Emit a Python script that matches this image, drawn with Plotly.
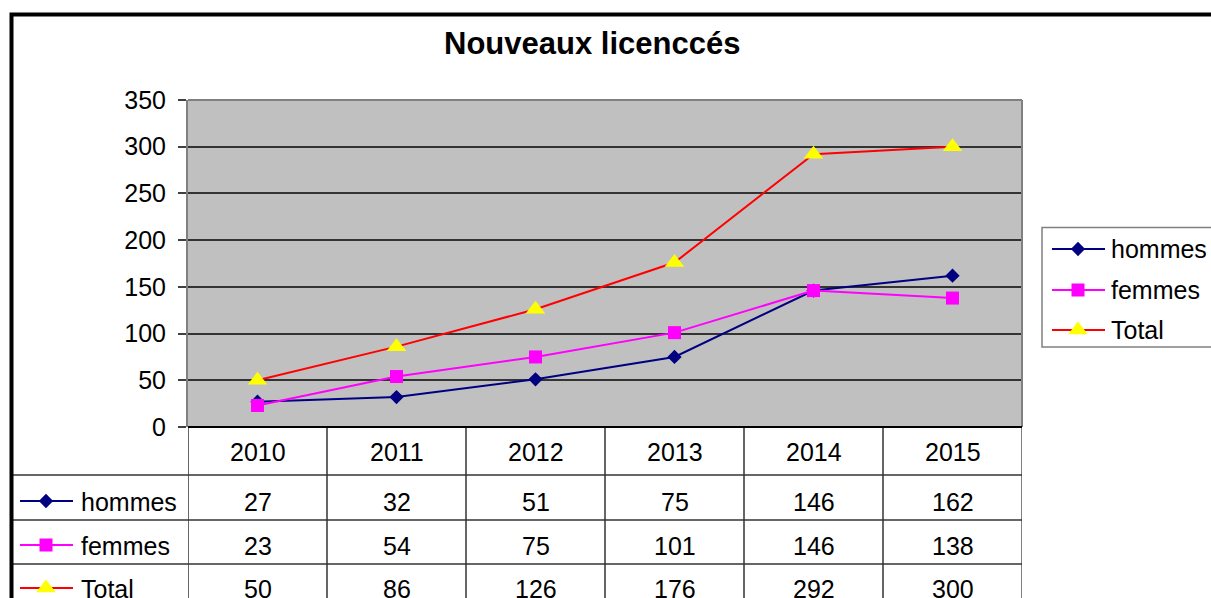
import plotly.graph_objects as go

W, H = 1211, 598

# ---- data ----
years = ["2010", "2011", "2012", "2013", "2014", "2015"]
series_names = ["hommes", "femmes", "Total"]
hommes = [27, 32, 51, 75, 146, 162]
femmes = [23, 54, 75, 101, 146, 138]
total = [50, 86, 126, 176, 292, 300]
y_ticks = [0, 50, 100, 150, 200, 250, 300, 350]
title_text = "Nouveaux licenccés"

series_values = [hommes, femmes, total]
line_colors = ["#000080", "#FF00FF", "#FF0000"]
marker_colors = ["#000080", "#FF00FF", "#FFFF00"]
marker_symbols = ["diamond", "square", "triangle-up"]
marker_sizes = [11, 13, 17]

FONT = "Liberation Sans, Arial, sans-serif"
FS = 25


def px(x):
    return x / W


def py(y):
    return 1 - y / H


# layout geometry (pixels)
PL, PR, PT, PB = 188, 1022, 100, 427
row_lines = [475, 520, 564]
row_centers = [502, 546, 589]
header_center = 452

fig = go.Figure()

# gray plot area
shapes = [
    dict(type="rect", xref="paper", yref="paper", x0=px(PL), x1=px(PR), y0=py(PB), y1=py(PT),
         fillcolor="#C0C0C0", line=dict(width=0), layer="below"),
]

for name, vals, lc, mc, sym, sz in zip(series_names, series_values, line_colors,
                                       marker_colors, marker_symbols, marker_sizes):
    fig.add_trace(go.Scatter(
        x=years, y=vals, mode="lines+markers", name=name,
        line=dict(color=lc, width=2),
        marker=dict(symbol=sym, size=sz, color=mc, line=dict(width=0)),
        showlegend=False, cliponaxis=False, hoverinfo="skip",
        xaxis="x", yaxis="y",
    ))

# legend keys (table + right legend) on a full-canvas overlay axis
leg_centers = [249, 290, 330]
for i, (name, lc, mc, sym, sz) in enumerate(zip(series_names, line_colors, marker_colors,
                                                marker_symbols, marker_sizes)):
    for (x0, x1, xm, yc) in [(20, 73, 46, row_centers[i] - 1), (1052, 1105, 1078, leg_centers[i])]:
        fig.add_trace(go.Scatter(x=[x0, x1], y=[yc, yc], mode="lines",
                                 line=dict(color=lc, width=2), showlegend=False,
                                 hoverinfo="skip", xaxis="x2", yaxis="y2"))
        fig.add_trace(go.Scatter(x=[xm], y=[yc], mode="markers",
                                 marker=dict(symbol=sym, size=sz, color=mc, line=dict(width=0)),
                                 showlegend=False, hoverinfo="skip", xaxis="x2", yaxis="y2"))

annotations = []
# title
annotations.append(dict(text=title_text, x=px(592), y=py(44), xref="paper", yref="paper",
                        xanchor="center", yanchor="middle", showarrow=False,
                        font=dict(family=FONT, size=31, color="#000000", weight="bold")))

# table header (years)
for i, yr in enumerate(years):
    annotations.append(dict(text=yr, x=i, y=py(header_center), xref="x", yref="paper",
                            xanchor="center", yanchor="middle", showarrow=False,
                            font=dict(family=FONT, size=FS, color="#000000")))
# table rows
for r, (name, vals) in enumerate(zip(series_names, series_values)):
    annotations.append(dict(text=name, x=px(79), y=py(row_centers[r]), xref="paper", yref="paper",
                            xanchor="left", yanchor="middle", showarrow=False,
                            font=dict(family=FONT, size=FS, color="#000000")))
    for i, v in enumerate(vals):
        annotations.append(dict(text=str(v), x=i, y=py(row_centers[r]), xref="x", yref="paper",
                                xanchor="center", yanchor="middle", showarrow=False,
                                font=dict(family=FONT, size=FS, color="#000000")))
# right legend labels
for r, name in enumerate(series_names):
    annotations.append(dict(text=name, x=px(1109), y=py(leg_centers[r]), xref="paper", yref="paper",
                            xanchor="left", yanchor="middle", showarrow=False,
                            font=dict(family=FONT, size=FS, color="#000000")))

# table grid lines
GRID = "#333333"
for k in range(len(years) + 1):
    col = "#808080" if k == len(years) else GRID
    wid = 2 if k == len(years) else 1.5
    shapes.append(dict(type="line", xref="x", yref="paper", x0=k - 0.5, x1=k - 0.5,
                       y0=py(PB), y1=py(H + 20), line=dict(color=col, width=wid)))
for yl in row_lines:
    shapes.append(dict(type="line", xref="paper", yref="paper", x0=px(13), x1=px(PR),
                       y0=py(yl), y1=py(yl), line=dict(color=GRID, width=1.5)))
# plot area border (top and right)
shapes.append(dict(type="line", xref="paper", yref="paper", x0=px(PL), x1=px(PR),
                   y0=py(PT), y1=py(PT), line=dict(color="#808080", width=2)))
shapes.append(dict(type="line", xref="paper", yref="paper", x0=px(PR), x1=px(PR),
                   y0=py(PT), y1=py(PB), line=dict(color="#808080", width=2)))
# x axis line
shapes.append(dict(type="line", xref="paper", yref="paper", x0=px(PL), x1=px(PR),
                   y0=py(PB), y1=py(PB), line=dict(color="#000000", width=2)))
# right legend box
shapes.append(dict(type="rect", xref="paper", yref="paper", x0=px(1042), x1=px(1240),
                   y0=py(347), y1=py(227.5), line=dict(color="#808080", width=1.5)))
# outer chart border
shapes.append(dict(type="rect", xref="paper", yref="paper", x0=px(11.5), x1=px(1260),
                   y0=py(650), y1=py(14.5), line=dict(color="#000000", width=4)))

fig.update_layout(
    width=W, height=H,
    margin=dict(l=0, r=0, t=0, b=0, pad=0, autoexpand=False),
    paper_bgcolor="#FFFFFF", plot_bgcolor="rgba(0,0,0,0)",
    font=dict(family=FONT, size=FS, color="#000000"),
    showlegend=False,
    xaxis=dict(type="category", range=[-0.5, len(years) - 0.5],
               domain=[px(PL), px(PR)], showticklabels=False, showgrid=False,
               zeroline=False, showline=False, ticks="", fixedrange=True, automargin=False),
    yaxis=dict(range=[0, 350], domain=[py(PB), py(PT)], tickvals=y_ticks,
               ticktext=[str(v) for v in y_ticks],
               ticks="outside", ticklen=8, tickwidth=1.5, tickcolor="#404040",
               showgrid=True, gridcolor=GRID, gridwidth=1.5, zeroline=False,
               showline=True, linecolor="#808080", linewidth=2,
               tickfont=dict(family=FONT, size=FS, color="#000000"),
               ticklabelstandoff=7, fixedrange=True, automargin=False),
    xaxis2=dict(domain=[0, 1], range=[0, W], visible=False, anchor="y2",
                fixedrange=True, automargin=False),
    yaxis2=dict(domain=[0, 1], range=[H, 0], visible=False, anchor="x2",
                fixedrange=True, automargin=False),
    shapes=shapes,
    annotations=annotations,
)

fig.write_html("out.html")
